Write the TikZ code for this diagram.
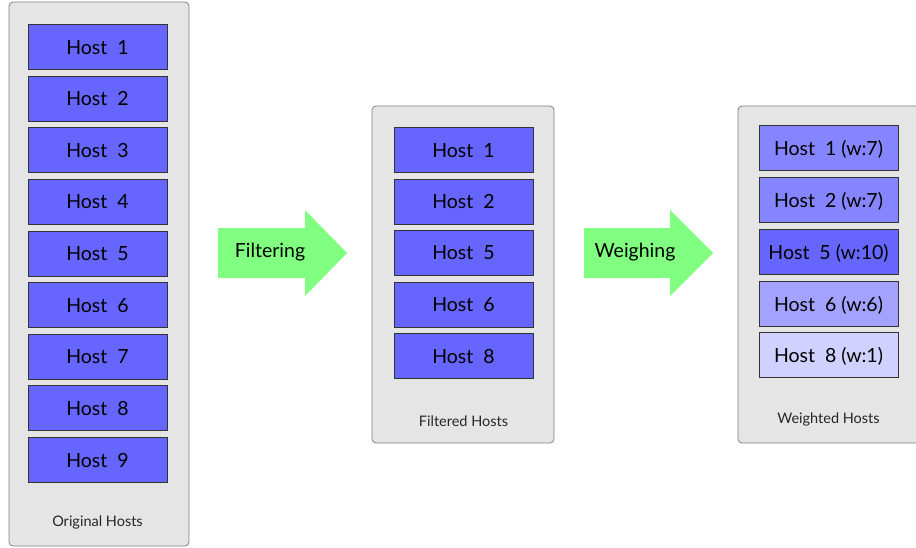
\documentclass[tikz,border=0pt]{standalone}
\usepackage{fontspec}
\setmainfont{Lato}
\usetikzlibrary{shapes.arrows}
\definecolor{hostblue}{HTML}{6666FF}
\definecolor{contgray}{HTML}{E5E5E5}
\definecolor{arrowgreen}{HTML}{80FF80}
\tikzset{
  container/.style={draw=black!50, fill=contgray, rounded corners=4pt, line width=0.8pt},
  host/.style={draw=black!80, fill=hostblue, minimum width=139pt, minimum height=45pt, line width=0.8pt, font=\fontsize{19.5}{22}\selectfont, inner sep=0pt, text depth=-1pt},
  caption/.style={font=\fontsize{14.5}{16}\selectfont, text=black!85},
  flow/.style={font=\fontsize{19.5}{22}\selectfont}
}
\begin{document}
\begin{tikzpicture}[x=1pt,y=-1pt]
\useasboundingbox (0,0) rectangle (916,547);
% containers
\draw[container] (9,2) rectangle (189,546);
\draw[container] (372,106) rectangle (554,443);
\draw[container] (738,106) rectangle (930,443);
% original hosts
\foreach \i/\y in {1/47,2/98.6,3/150.3,4/201.9,5/253.5,6/305.1,7/356.7,8/408.3,9/460} {
  \node[host] (o\i) at (97.5,\y) {Host\ \ \i};
}
\node[caption] (ocap) at (97.5,522) {Original Hosts};
% filtered hosts
\foreach \i/\y in {1/150,2/201.5,5/253,6/304.5,8/356} {
  \node[host] (f\i) at (463.5,\y) {Host\ \ \i};
}
\node[caption] (fcap) at (463.5,421) {Filtered Hosts};
% weighted hosts
\node[host, fill=hostblue!80] (w1) at (828.5,148) {Host\ \ 1 (w:7)};
\node[host, fill=hostblue!80] (w2) at (828.5,200) {Host\ \ 2 (w:7)};
\node[host, fill=hostblue] (w5) at (828.5,252) {Host\ \ 5 (w:10)};
\node[host, fill=hostblue!60] (w6) at (828.5,304) {Host\ \ 6 (w:6)};
\node[host, fill=hostblue!30] (w8) at (828.5,355) {Host\ \ 8 (w:1)};
\node[caption] (wcap) at (828.5,419) {Weighted Hosts};
% arrows
\fill[arrowgreen] (218,228) -- (305,228) -- (305,210) -- (347,253) -- (305,296) -- (305,278) -- (218,278) -- cycle;
\node[flow] (filt) at (270,252) {Filtering};
\fill[arrowgreen] (584,228) -- (670,228) -- (670,210) -- (713,253) -- (670,296) -- (670,278) -- (584,278) -- cycle;
\node[flow] (weigh) at (635,252) {Weighing};
\end{tikzpicture}
\end{document}
